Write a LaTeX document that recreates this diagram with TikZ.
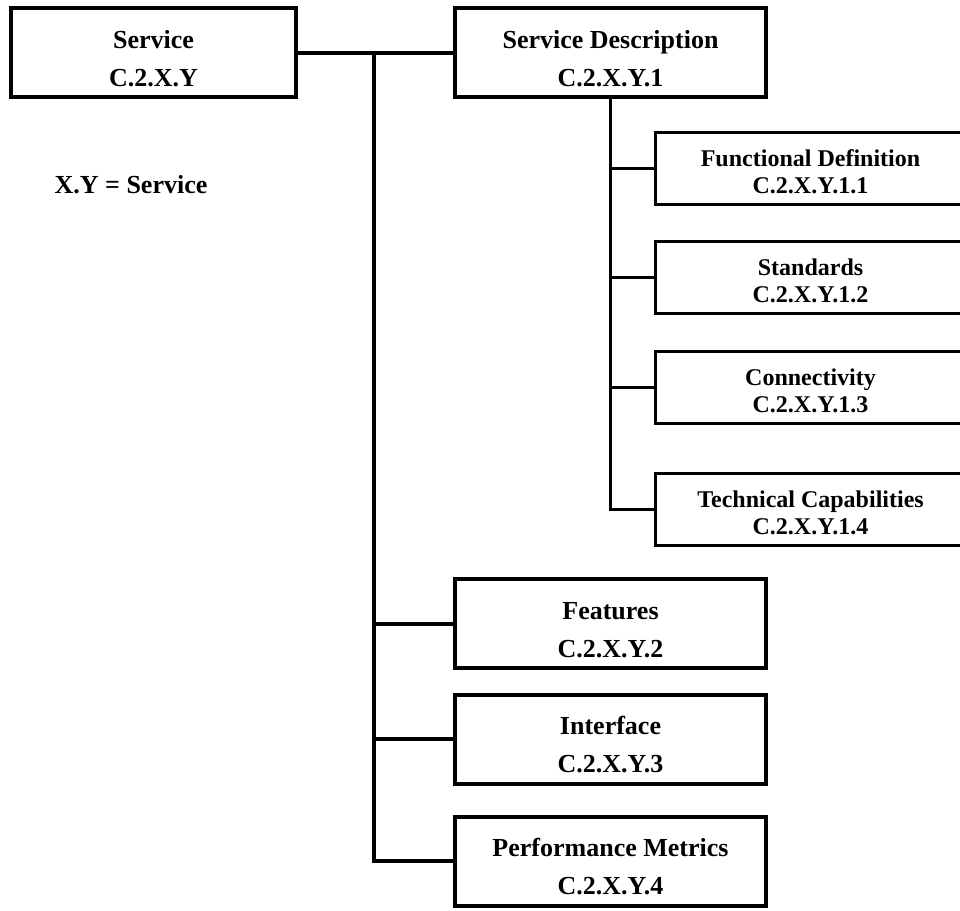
\documentclass[tikz,border=0pt]{standalone}
\usepackage{fontspec}
\setmainfont{Liberation Serif}
\usepackage{tikz}
\usetikzlibrary{positioning}

\newcommand{\lowmain}{\rule{0pt}{30pt}}
\newcommand{\lowsub}{\rule{0pt}{24pt}}
\tikzset{
  mainbox/.style={draw, line width=4pt, minimum width=311pt, minimum height=89pt, align=center, font=\fontsize{26}{38}\selectfont\bfseries},
  subbox/.style={draw, line width=3pt, minimum width=311pt, minimum height=72pt, align=center, font=\fontsize{24}{27}\selectfont\bfseries},
  link/.style={line width=4pt},
  sublink/.style={line width=3pt}
}

\begin{document}
\begin{tikzpicture}[x=1pt, y=1pt]
  \useasboundingbox (0,0) rectangle (960,-910);
  \node[mainbox, minimum width=285pt] (service) at (153.5,-52.5) {\lowmain Service\\C.2.X.Y};
  \node[font=\fontsize{26}{30}\selectfont\bfseries] (legend) at (131,-185) {X.Y = Service};
  \node[mainbox] (desc) at (610.5,-52.5) {\lowmain Service Description\\C.2.X.Y.1};
  \node[mainbox] (feat) at (610.5,-623.5) {\lowmain Features\\C.2.X.Y.2};
  \node[mainbox] (intf) at (610.5,-739) {\lowmain Interface\\C.2.X.Y.3};
  \node[mainbox] (perf) at (610.5,-861) {\lowmain Performance Metrics\\C.2.X.Y.4};
  % sub items of the description
  \node[subbox] (func) at (810.5,-168) {\lowsub Functional Definition\\C.2.X.Y.1.1};
  \node[subbox] (stds) at (810.5,-277.5) {\lowsub Standards\\C.2.X.Y.1.2};
  \node[subbox] (conn) at (810.5,-387.5) {\lowsub Connectivity\\C.2.X.Y.1.3};
  \node[subbox] (tech) at (810.5,-509) {\lowsub Technical Capabilities\\C.2.X.Y.1.4};
  \coordinate (trunk) at (374,-52.5);
  \draw[link] (service) -- (desc);
  \draw[link] (trunk) |- (perf);
  \path[link]
  (trunk |- feat) edge (feat)
  (trunk |- intf) edge (intf)
  ;
  \draw[sublink] (desc.south) |- (tech);
  \path[sublink]
  (desc.south |- func) edge (func)
  (desc.south |- stds) edge (stds)
  (desc.south |- conn) edge (conn)
  ;
\end{tikzpicture}
\end{document}
